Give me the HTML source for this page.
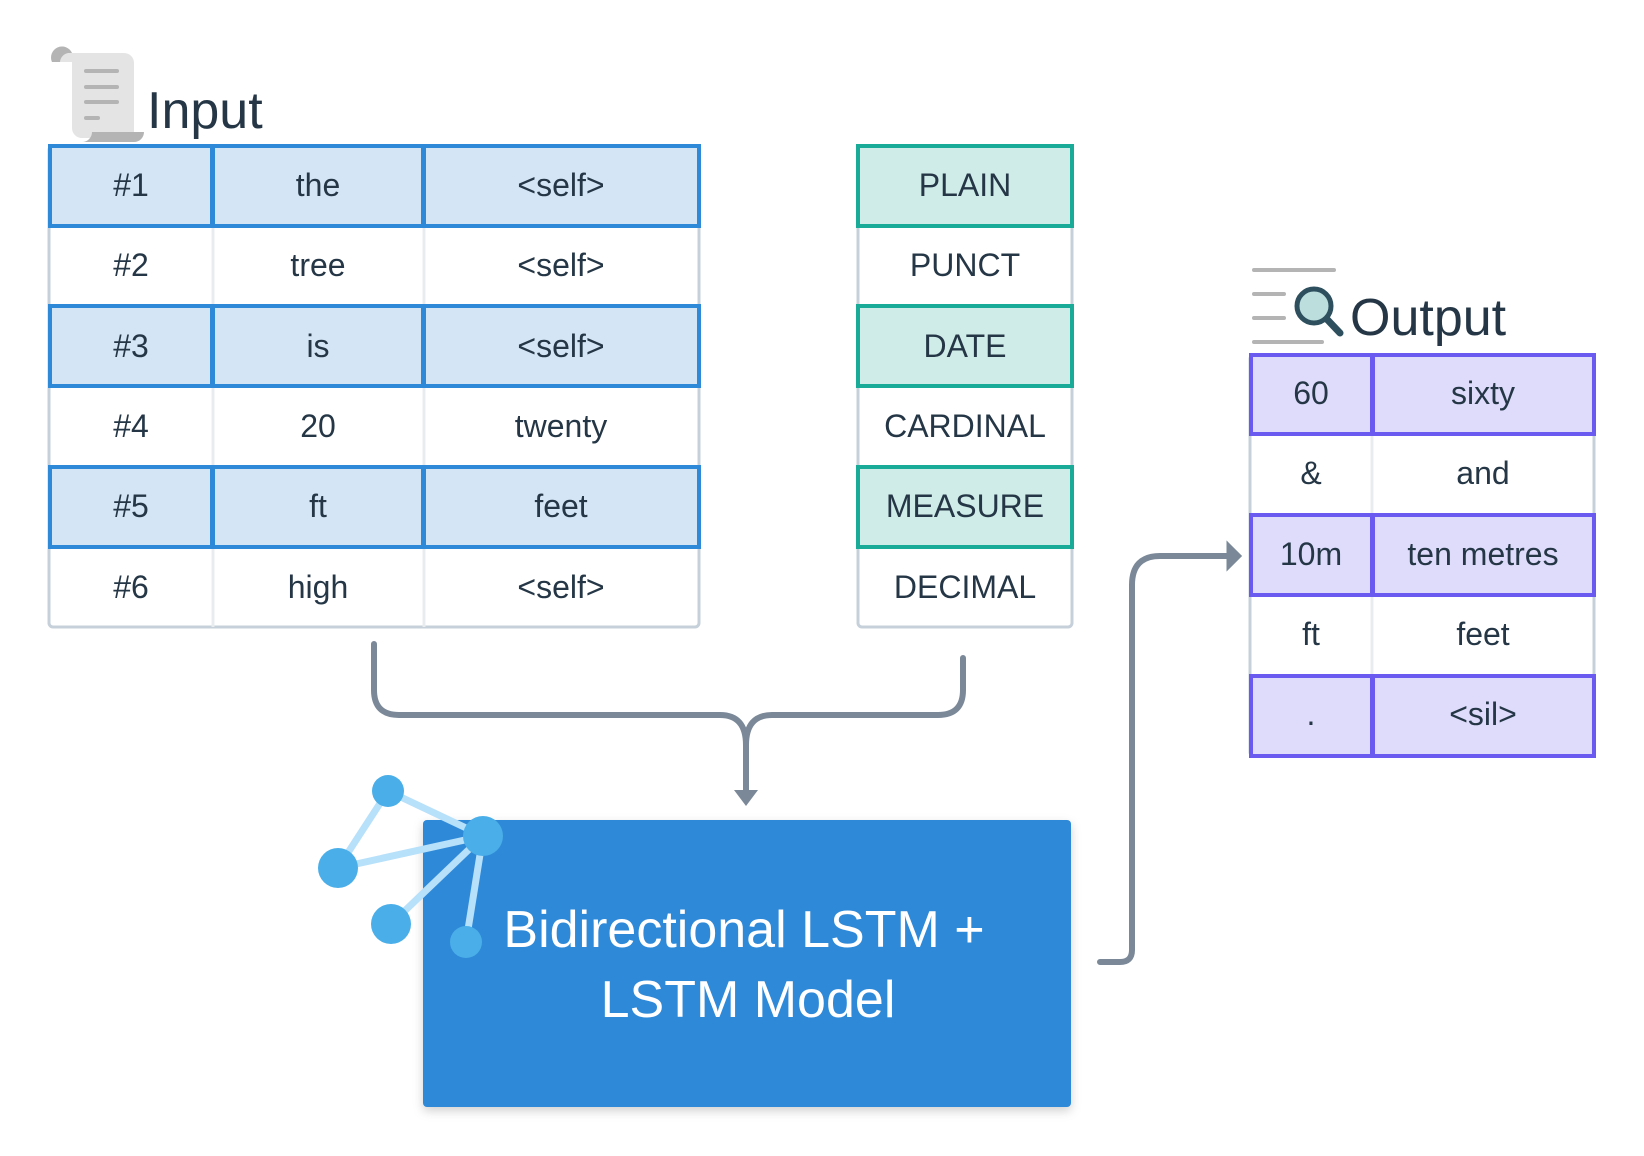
<!DOCTYPE html>
<html><head><meta charset="utf-8"><style>
html,body{margin:0;padding:0;background:#fff;}
svg{display:block}
text{font-family:"Liberation Sans Narrow","Liberation Sans",sans-serif;fill:#253746;}
</style></head><body>
<svg width="1644" height="1156" viewBox="0 0 1644 1156" xmlns="http://www.w3.org/2000/svg">
<defs>
<filter id="sh" x="-5%" y="-5%" width="110%" height="115%"><feDropShadow dx="0" dy="4" stdDeviation="5" flood-color="#000" flood-opacity="0.18"/></filter>
</defs>
<!-- scroll icon -->
<path d="M52 62 a10 10 0 0 1 20 -9 h52 a10 10 0 0 1 10 10 v75 h-52 a10 10 0 0 1 -10 -10 v-66 z" fill="#e4e4e4"/>
<path d="M52 62 a10 10 0 0 1 20 -9 h-4 a10 10 0 0 0 -8 9z" fill="#b4b4b4"/>
<path d="M82 142 a10 10 0 0 0 10 -10 h52 a10 10 0 0 1 -10 10z" fill="#b4b4b4"/>
<g stroke="#b4b4b4" stroke-width="4" stroke-linecap="round">
<line x1="86" y1="71" x2="117" y2="71"/><line x1="86" y1="87" x2="117" y2="87"/><line x1="86" y1="102" x2="117" y2="102"/><line x1="86" y1="118" x2="98" y2="118"/></g>
<text x="147" y="128" font-size="52">Input</text>

<!-- Input table -->
<g font-size="32" text-anchor="middle">
<rect x="49" y="146" width="650" height="481" rx="4" fill="#fff" stroke="#c5d0da" stroke-width="3"/>
<line x1="213" y1="146" x2="213" y2="627" stroke="#e8ecef" stroke-width="3"/>
<line x1="424" y1="146" x2="424" y2="627" stroke="#e8ecef" stroke-width="3"/>
<g fill="#d4e6f6" stroke="#2e89d8" stroke-width="4">
<rect x="50" y="146" width="162" height="80"/><rect x="213" y="146" width="210" height="80"/><rect x="424" y="146" width="275" height="80"/>
<rect x="50" y="306" width="162" height="80"/><rect x="213" y="306" width="210" height="80"/><rect x="424" y="306" width="275" height="80"/>
<rect x="50" y="467" width="162" height="80"/><rect x="213" y="467" width="210" height="80"/><rect x="424" y="467" width="275" height="80"/>
</g>
<text x="131" y="196">#1</text><text x="318" y="196">the</text><text x="561" y="196">&lt;self&gt;</text>
<text x="131" y="276">#2</text><text x="318" y="276">tree</text><text x="561" y="276">&lt;self&gt;</text>
<text x="131" y="357">#3</text><text x="318" y="357">is</text><text x="561" y="357">&lt;self&gt;</text>
<text x="131" y="437">#4</text><text x="318" y="437">20</text><text x="561" y="437">twenty</text>
<text x="131" y="517">#5</text><text x="318" y="517">ft</text><text x="561" y="517">feet</text>
<text x="131" y="598">#6</text><text x="318" y="598">high</text><text x="561" y="598">&lt;self&gt;</text>

<!-- Tag table -->
<rect x="858" y="146" width="214" height="481" rx="4" fill="#fff" stroke="#c5d0da" stroke-width="3"/>
<g fill="#cfece9" stroke="#1aab98" stroke-width="4">
<rect x="858" y="146" width="214" height="80"/><rect x="858" y="306" width="214" height="80"/><rect x="858" y="467" width="214" height="80"/>
</g>
<text x="965" y="196">PLAIN</text><text x="965" y="276">PUNCT</text><text x="965" y="357">DATE</text>
<text x="965" y="437">CARDINAL</text><text x="965" y="517">MEASURE</text><text x="965" y="598">DECIMAL</text>

<!-- Output table -->
<rect x="1250" y="355" width="344" height="401" rx="4" fill="#fff" stroke="#c5d0da" stroke-width="3"/>
<line x1="1372" y1="355" x2="1372" y2="756" stroke="#e8ecef" stroke-width="3"/>
<g fill="#dedbfb" stroke="#6a5af0" stroke-width="4">
<rect x="1251" y="355" width="121" height="79"/><rect x="1373" y="355" width="221" height="79"/>
<rect x="1251" y="515" width="121" height="80"/><rect x="1373" y="515" width="221" height="80"/>
<rect x="1251" y="676" width="121" height="80"/><rect x="1373" y="676" width="221" height="80"/>
</g>
<text x="1311" y="404">60</text><text x="1483" y="404">sixty</text>
<text x="1311" y="484">&amp;</text><text x="1483" y="484">and</text>
<text x="1311" y="565">10m</text><text x="1483" y="565">ten metres</text>
<text x="1311" y="645">ft</text><text x="1483" y="645">feet</text>
<text x="1311" y="725">.</text><text x="1483" y="725">&lt;sil&gt;</text>
</g>

<!-- Output icon -->
<g stroke="#b4b4b4" stroke-width="4" stroke-linecap="round">
<line x1="1254" y1="270" x2="1334" y2="270"/><line x1="1254" y1="294" x2="1284" y2="294"/><line x1="1254" y1="318" x2="1284" y2="318"/><line x1="1254" y1="342" x2="1322" y2="342"/></g>
<line x1="1322" y1="314" x2="1340" y2="333" stroke="#2d4f5e" stroke-width="7" stroke-linecap="round"/>
<circle cx="1314" cy="306" r="17" fill="#bcdedd" stroke="#2d4f5e" stroke-width="5"/>
<text x="1350" y="335" font-size="52">Output</text>

<!-- connectors -->
<g fill="none" stroke="#7a8898" stroke-width="6" stroke-linecap="round">
<path d="M374 644 V690 Q374 715 399 715 H720 Q746 715 746 745 V795"/>
<path d="M963 658 V690 Q963 715 938 715 H772 Q746 715 746 745"/>
<path d="M1100 962 H1120 Q1132 962 1132 950 V585 Q1132 556 1160 556 H1232"/>
</g>
<path d="M734 790 L758 790 L746 806 Z" fill="#7a8898"/>
<path d="M1228 544 L1240 556 L1228 568 Z" fill="#7a8898" stroke="#7a8898" stroke-width="3"/>

<!-- model box -->
<rect x="423" y="820" width="648" height="287" rx="4" fill="#2e89d8" filter="url(#sh)"/>
<text x="744" y="947" font-size="52" text-anchor="middle" style="fill:#fff">Bidirectional LSTM +</text>
<text x="748" y="1017" font-size="52" text-anchor="middle" style="fill:#fff">LSTM Model</text>

<!-- network icon -->
<g stroke="#b7e0fa" stroke-width="7">
<line x1="388" y1="791" x2="483" y2="836"/><line x1="388" y1="791" x2="338" y2="868"/>
<line x1="338" y1="868" x2="483" y2="836"/><line x1="391" y1="924" x2="483" y2="836"/><line x1="466" y1="942" x2="483" y2="836"/>
</g>
<g fill="#4aaee8">
<circle cx="388" cy="791" r="16"/><circle cx="338" cy="868" r="20"/><circle cx="483" cy="836" r="20"/><circle cx="391" cy="924" r="20"/><circle cx="466" cy="942" r="16"/>
</g>
</svg>
</body></html>
